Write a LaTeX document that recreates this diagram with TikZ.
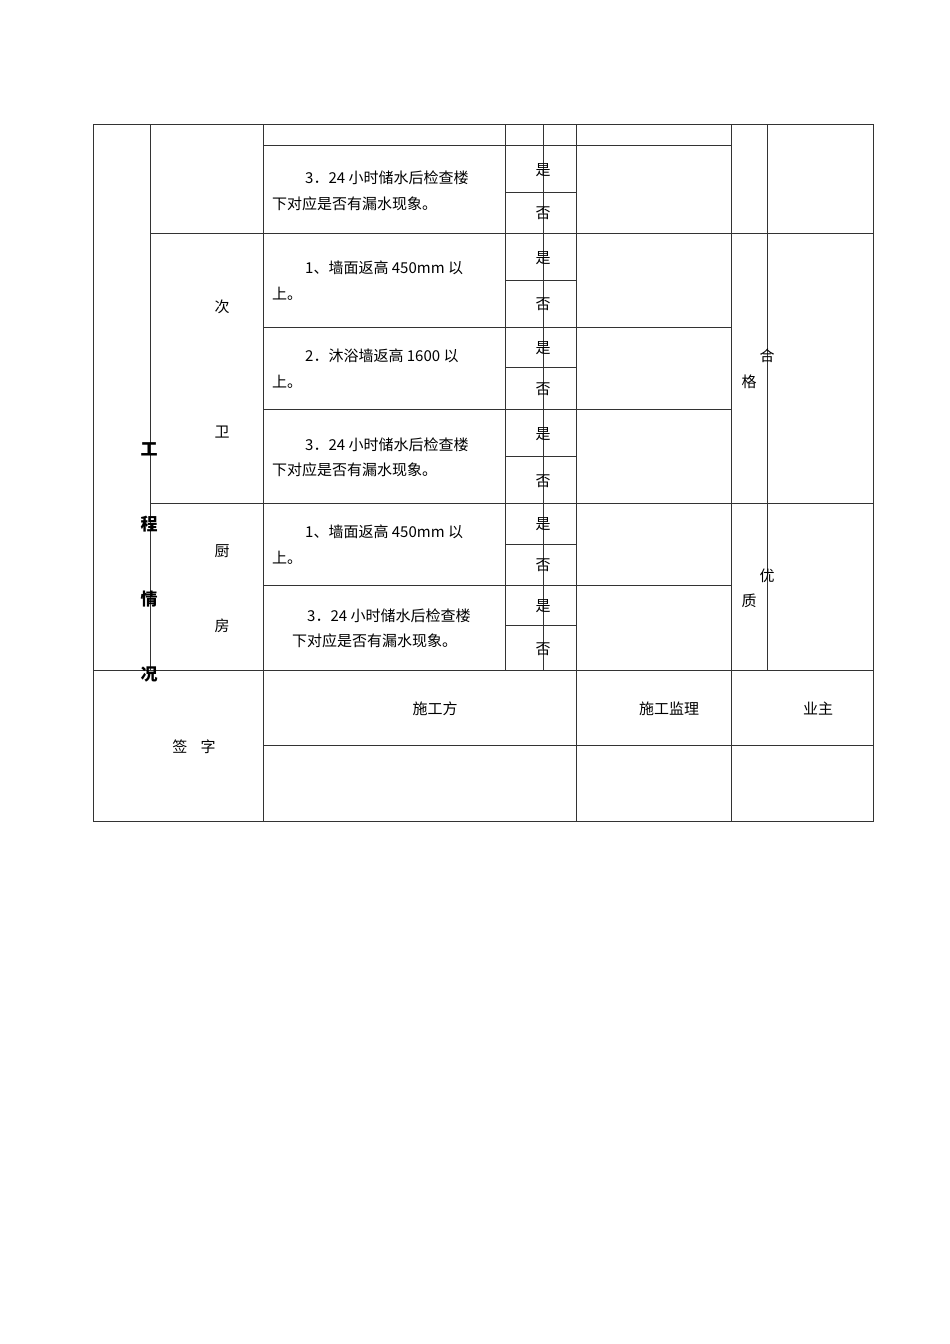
\documentclass[tikz,border=0pt]{standalone}
\usepackage{fontspec}
\newfontfamily\cjk{Noto Sans CJK SC}
\begin{document}
\begin{tikzpicture}[x=1pt,y=-1pt,
  ln/.style={line width=0.8pt,draw=black!80},
  tx/.style={font=\cjk\fontsize{15}{18}\selectfont,inner sep=0pt},
  bt/.style={font=\cjk\bfseries\fontsize{17}{20}\selectfont,inner sep=0pt}]
\useasboundingbox (0,0) rectangle (950,1344);
\draw[ln] (93,124) rectangle (873,821);
% verticals
\draw[ln] (150,124)--(150,670);
\draw[ln] (263,124)--(263,821);
\draw[ln] (505,124)--(505,670);
\draw[ln] (543,124)--(543,670);
\draw[ln] (576,124)--(576,821);
\draw[ln] (731,124)--(731,821);
\draw[ln] (767,124)--(767,670);
% horizontals
\foreach \y in {145,327,409,585} \draw[ln] (263,\y)--(731,\y);
\foreach \y in {192,280,367,456,544,625} \draw[ln] (505,\y)--(576,\y);
\foreach \y in {233,503} \draw[ln] (150,\y)--(873,\y);
\draw[ln] (93,670)--(873,670);
\draw[ln] (263,745)--(873,745);
% texts
\node[tx,anchor=west] (a1) at (305,178) {3．24 小时储水后检查楼};
\node[tx,anchor=west] (a2) at (272,204) {下对应是否有漏水现象。};
\node[tx,anchor=west] (b1) at (305,268) {1、墙面返高 450mm 以};
\node[tx,anchor=west] (b2) at (272,294) {上。};
\node[tx,anchor=west] (c1) at (305,356) {2．沐浴墙返高 1600 以};
\node[tx,anchor=west] (c2) at (272,382) {上。};
\node[tx,anchor=west] (d1) at (305,445) {3．24 小时储水后检查楼};
\node[tx,anchor=west] (d2) at (272,470) {下对应是否有漏水现象。};
\node[tx,anchor=west] (e1) at (305,532) {1、墙面返高 450mm 以};
\node[tx,anchor=west] (e2) at (272,558) {上。};
\node[tx,anchor=west] (f1) at (307,616) {3．24 小时储水后检查楼};
\node[tx,anchor=west] (f2) at (292,641) {下对应是否有漏水现象。};
\foreach \y/\t [count=\i] in {170/是,213/否,258/是,304/否,348/是,389/否,434/是,481/否,524/是,565/否,606/是,649/否}
  \node[tx] (yn\i) at (543,\y) {\t};
\node[tx] (ci) at (222,307) {次};
\node[tx] (we) at (222,432) {卫};
\node[tx] (ch) at (222,551) {厨};
\node[tx] (fa) at (222,626) {房};
\node[bt] (g1) at (149,449) {工};
\node[bt] (g2) at (149,524) {程};
\node[bt] (g3) at (149,599) {情};
\node[bt] (g4) at (149,674) {况};
\node[tx] (he) at (767,356) {合};
\node[tx] (ge) at (749,382) {格};
\node[tx] (yo) at (767,576) {优};
\node[tx] (zh) at (749,601) {质};
\node[tx] (qz) at (194,747) {签\hspace{0.9em}字};
\node[tx] (sg) at (435,709) {施工方};
\node[tx] (jl) at (669,709) {施工监理};
\node[tx] (yz) at (818,709) {业主};
\end{tikzpicture}
\end{document}
